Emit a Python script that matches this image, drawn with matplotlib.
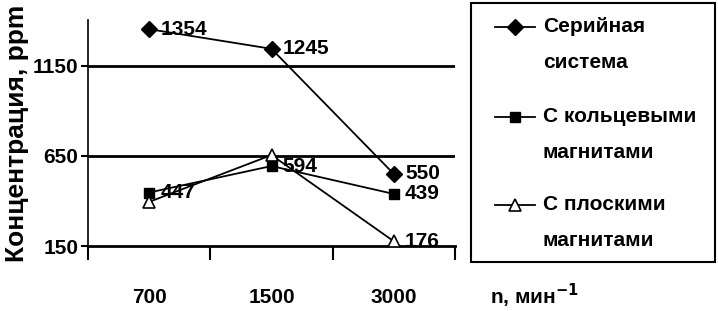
import matplotlib
matplotlib.use('agg')
import matplotlib.pyplot as plt
from matplotlib.lines import Line2D
from matplotlib.patches import Rectangle
import numpy as np

# data
rpm = ['700', '1500', '3000']
serial = [1354, 1245, 550]
ring = [447, 594, 439]
flat = [395, 655, 176]
serial_lbl = ['1354', '1245', '550']
ring_lbl = ['447', '594', '439']
flat_lbl = [None, None, '176']
names = [('Серийная', 'система'), ('С кольцевыми', 'магнитами'), ('С плоскими', 'магнитами')]
yticks = [150, 650, 1150]

plt.rcParams['font.family'] = ['Liberation Sans', 'DejaVu Sans']
plt.rcParams['font.weight'] = 'bold'

W, H = 718, 311
fig = plt.figure(figsize=(W/100, H/100), dpi=100)
ax = fig.add_axes([88/W, 65/H, 367/W, 226/H])

styles = [dict(marker='D', ms=8, mfc='black'),
          dict(marker='s', ms=7, mfc='black'),
          dict(marker='^', ms=9, mfc='white', mew=1.2)]

x = np.arange(1, len(rpm) + 1)
series = [serial, ring, flat]
labels = [serial_lbl, ring_lbl, flat_lbl]
for ys, st in zip(series, styles):
    ax.plot(x, ys, color='black', lw=1.3, zorder=4, **st)

for ys, ls in zip(series, labels):
    for xi, yi, li in zip(x, ys, ls):
        if li is None:
            continue
        ax.annotate(li, (xi, yi), xytext=(8, 0), textcoords='offset points',
                    ha='left', va='center', fontsize=15, fontweight='bold')

for yv in yticks[1:]:
    ax.axhline(yv, color='black', lw=2, zorder=1)

ax.set_xlim(0.5, 3.5)
ax.set_ylim(150, 1405)
ax.set_yticks(yticks)
ax.set_yticklabels([str(v) for v in yticks], fontsize=15, fontweight='bold')
ax.set_xticks([0.5, 1.5, 2.5, 3.5])
ax.set_xticklabels([])
ax.set_xticks(x, minor=True)
ax.set_xticklabels(rpm, minor=True, fontsize=15, fontweight='bold')
ax.tick_params(axis='x', which='major', length=10, width=1.5, direction='out')
ax.tick_params(axis='x', which='minor', length=0, pad=30)
ax.tick_params(axis='y', length=5, width=1.5, pad=2)

for s in ['top', 'right']:
    ax.spines[s].set_visible(False)
ax.spines['bottom'].set_linewidth(2)
ax.spines['left'].set_linewidth(1.2)

fig.text(17/W, 1 - 133/H, 'Концентрация, ppm', rotation=90, ha='center', va='center',
         fontsize=19, fontweight='bold')
fig.text(490/W, 1 - 296/H, 'n, мин$^{\\mathbf{-1}}$', ha='left', va='center',
         fontsize=15, fontweight='bold')

# legend box drawn by hand so the key sits beside the first line
fig.patches.append(Rectangle((471/W, 1 - 262/H), 244/W, 259/H, transform=fig.transFigure,
                             fill=False, edgecolor='black', lw=1.5))
rows = [27, 117, 205]
for (l1, l2), st, yy in zip(names, styles, rows):
    yf = 1 - yy/H
    fig.lines.append(Line2D([495/W, 535/W], [yf, yf], transform=fig.transFigure,
                            color='black', lw=1.3))
    fig.lines.append(Line2D([515/W], [yf], transform=fig.transFigure, color='black', **st))
    fig.text(543/W, yf, l1, ha='left', va='center', fontsize=15, fontweight='bold')
    fig.text(543/W, 1 - (yy + 36)/H, l2, ha='left', va='center', fontsize=15, fontweight='bold')

plt.savefig('out.png', dpi=100)
